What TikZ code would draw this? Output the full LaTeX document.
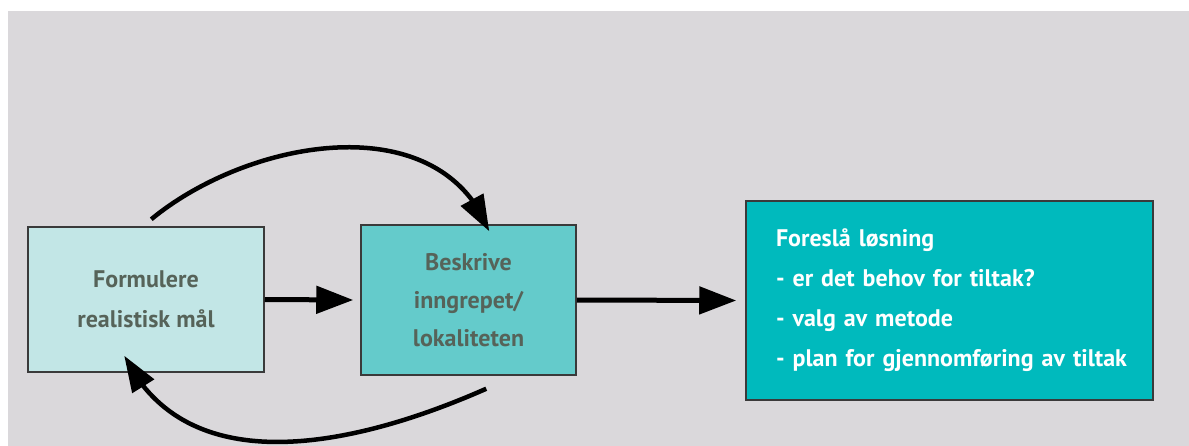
\documentclass[tikz,border=0pt]{standalone}
\usepackage{fontspec}
\setmainfont{PT Sans}
\usetikzlibrary{arrows.meta,bending,calc}
\definecolor{bggray}{HTML}{DAD8DB}
\definecolor{boxone}{HTML}{C2E6E6}
\definecolor{boxtwo}{HTML}{64CBCB}
\definecolor{boxthree}{HTML}{00BABD}
\definecolor{boxline}{HTML}{3A3A3A}
\definecolor{darktext}{HTML}{566359}
\tikzset{
  stepbox/.style={draw=boxline, line width=1.5pt, inner sep=0pt, font=\bfseries\fontsize{24}{40}\selectfont},
  straightarrow/.style={line width=5pt, -{Triangle[length=37pt,width=27pt]}},
  curvearrow/.style={line width=4.5pt, -{Triangle[length=36pt,width=25pt]}}
}
\begin{document}
\begin{tikzpicture}[x=1pt,y=-1pt]
\useasboundingbox (0,0) rectangle (1189,446);
\fill[white] (0,0) rectangle (1189,446);
\fill[bggray] (8,11) rectangle (1189,446);
\node[stepbox, fill=boxone, text=darktext, minimum width=236pt, minimum height=145pt, align=center] (b1) at (146,299.5) {Formulere\\realistisk mål};
\node[stepbox, fill=boxtwo, text=darktext, minimum width=215pt, minimum height=150pt, align=center, font=\bfseries\fontsize{24}{38}\selectfont] (b2) at (468.5,300) {Beskrive\\inngrepet/\\lokaliteten};
\node[stepbox, fill=boxthree, text=white, minimum width=407pt, minimum height=199pt, text width=347pt, align=left] (b3) at (949.5,300.5) {Foreslå løsning\\- er det behov for tiltak?\\- valg av metode\\\mbox{- plan for gjennomføring av tiltak}};
\draw[straightarrow] (b1.east) -- ([xshift=-7pt]b2.west);
\draw[straightarrow] (b2.east) -- ([xshift=-9pt]b3.west);
\draw[curvearrow] ([xshift=124pt,yshift=7pt]b1.north west) .. controls (250,138) and (440,105) .. ([xshift=129pt,yshift=-7pt]b2.north west);
\draw[curvearrow] ([xshift=126pt,yshift=-13pt]b2.south west) .. controls (370,440) and (190,490) .. ([xshift=97pt,yshift=17pt]b1.south west);
\end{tikzpicture}
\end{document}
